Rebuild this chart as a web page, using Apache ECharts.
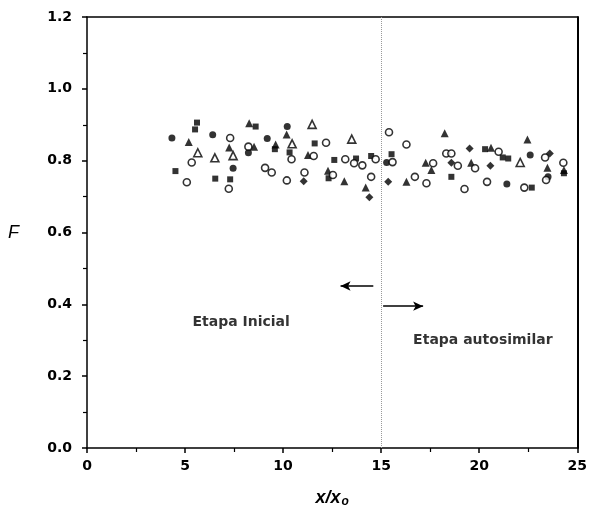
<!DOCTYPE html>
<html><head><meta charset="utf-8">
<script src="https://cdn.jsdelivr.net/npm/echarts@6/dist/echarts.min.js"></script>
<style>html,body{margin:0;padding:0;background:#fff}#c{width:590px;height:515px}</style>
</head><body><div id="c"></div>
<script>
const xTicks = [0, 5, 10, 15, 20, 25];
const yTicks = [0.0, 0.2, 0.4, 0.6, 0.8, 1.0, 1.2];
const filledCircle = [[4.33,0.863],[6.41,0.872],[7.45,0.779],[8.23,0.822],[9.19,0.862],[10.21,0.895],[15.28,0.795],[22.6,0.816],[23.51,0.755],[21.41,0.735]];
const filledSquare = [[5.61,0.906],[5.51,0.887],[4.51,0.771],[6.54,0.75],[7.30,0.748],[8.60,0.895],[9.58,0.832],[10.33,0.823],[11.61,0.848],[12.61,0.802],[13.72,0.806],[12.32,0.751],[14.49,0.813],[15.53,0.818],[20.30,0.832],[21.2,0.809],[21.48,0.806],[18.58,0.755],[24.32,0.765],[22.68,0.725]];
const filledTriangle = [[5.19,0.852],[7.25,0.837],[8.27,0.904],[8.52,0.839],[9.62,0.845],[10.18,0.873],[11.27,0.816],[12.29,0.772],[13.12,0.743],[14.21,0.725],[16.29,0.741],[17.27,0.794],[17.56,0.774],[18.24,0.876],[20.6,0.836],[19.59,0.794],[22.46,0.859],[23.48,0.780],[24.32,0.774]];
const filledDiamond = [[11.05,0.743],[14.40,0.698],[15.36,0.741],[19.51,0.834],[18.58,0.794],[20.57,0.786],[23.6,0.820]];
const openCircle = [[5.34,0.795],[5.09,0.74],[7.30,0.863],[7.23,0.722],[8.23,0.839],[9.08,0.78],[9.42,0.767],[10.43,0.804],[10.19,0.745],[12.19,0.850],[11.56,0.813],[11.09,0.767],[13.17,0.804],[13.62,0.793],[14.04,0.787],[12.54,0.760],[14.72,0.804],[14.49,0.755],[15.40,0.879],[15.58,0.796],[16.29,0.845],[16.72,0.755],[17.31,0.737],[17.65,0.793],[18.32,0.820],[18.58,0.820],[18.91,0.786],[19.25,0.721],[19.79,0.779],[20.99,0.825],[20.4,0.741],[22.30,0.725],[23.36,0.809],[23.41,0.746],[24.29,0.794]];
const openTriangle = [[5.65,0.822],[6.52,0.808],[7.45,0.814],[10.46,0.847],[11.48,0.901],[13.50,0.860],[22.09,0.795]];
const labels = [[5.38,0.351,'Etapa Inicial'],[16.63,0.300,'Etapa autosimilar']];
const arrows = [[[14.6,0.451],[12.93,0.451]],[[15.1,0.395],[17.14,0.395]]];
const boundaryX = 15;

const chart = echarts.init(document.getElementById('c'));
const font = 'DejaVu Sans, Liberation Sans, Arial, sans-serif';
function sc(name, data, symbol, open, size) {
  return {name, type:'scatter', data, symbol, symbolSize:size||7,
    itemStyle: open ? {color:'#fff', borderColor:'#000', borderWidth:1.6} : {color:'#000'}, z:5};
}
chart.setOption({
  animation:false,
  grid:{left:87, right:10, top:17, bottom:67},
  xAxis:[{type:'value', min:0, max:25, interval:5,
    axisLine:{onZero:false, lineStyle:{color:'#000', width:1.5}},
    axisTick:{show:true, length:5, lineStyle:{color:'#000', width:1.5}},
    minorTick:{show:true, splitNumber:2, length:4, lineStyle:{color:'#000', width:1.2}},
    axisLabel:{color:'#000', fontSize:14, fontWeight:'bold', fontFamily:font, margin:11},
    splitLine:{show:false},
    name:'{i|x}{i|/}{i|x}{s|o}', nameLocation:'middle', nameGap:40,
    nameTextStyle:{rich:{i:{fontSize:18, fontStyle:'italic', fontWeight:'bold', fontFamily:'Liberation Sans, Arial, sans-serif', color:'#000'}, s:{fontSize:12, fontStyle:'italic', fontWeight:'bold', fontFamily:'Liberation Sans, Arial, sans-serif', color:'#000', verticalAlign:'bottom', padding:[8,0,0,1]}}}
  },{type:'value', min:0, max:25, position:'top', axisLine:{show:true, onZero:false, lineStyle:{color:'#000', width:1.5}}, axisTick:{show:false}, axisLabel:{show:false}, splitLine:{show:false}}],
  yAxis:[{type:'value', min:0, max:1.2, interval:0.2,
    axisLine:{show:true, onZero:false, lineStyle:{color:'#000', width:1.5}},
    axisTick:{show:true, length:5, lineStyle:{color:'#000', width:1.5}},
    minorTick:{show:true, splitNumber:2, length:4, lineStyle:{color:'#000', width:1.2}},
    axisLabel:{color:'#000', fontSize:14, fontWeight:'bold', fontFamily:font, margin:15, formatter:v=>v.toFixed(1)},
    splitLine:{show:false},
    name:'F', nameLocation:'middle', nameGap:68, nameRotate:0,
    nameTextStyle:{fontSize:18, fontStyle:'italic', fontFamily:'Liberation Sans, Arial, sans-serif', color:'#000'}
  },{type:'value', min:0, max:1.2, position:'right', axisLine:{show:true, onZero:false, lineStyle:{color:'#000', width:2}}, axisTick:{show:false}, axisLabel:{show:false}, splitLine:{show:false}}],
  series:[
    sc('fc', filledCircle, 'circle', false, 7),
    sc('fs', filledSquare, 'rect', false, 6),
    sc('ft', filledTriangle, 'triangle', false, 8),
    sc('fd', filledDiamond, 'diamond', false, 8),
    sc('oc', openCircle, 'circle', true, 7),
    sc('ot', openTriangle, 'triangle', true, 8),
    {type:'scatter', data:labels, symbolSize:0, silent:true,
      label:{show:true, position:'right', distance:0, formatter:p=>p.data[2], color:'#000', fontSize:14, fontWeight:'bold', fontFamily:font},
      markLine:{silent:true, animation:false, symbol:['none','none'], label:{show:false},
        lineStyle:{color:'#999', type:'dotted', width:1}, data:[{xAxis:boundaryX}]}},
    {type:'scatter', data:[], symbolSize:0,
      markLine:{silent:true, animation:false, symbol:['none','arrow'], symbolSize:[7,10], label:{show:false},
        lineStyle:{color:'#000', type:'solid', width:1.5},
        data:arrows.map(a=>[{coord:a[0]},{coord:a[1]}])}}
  ]
});
</script></body></html>
